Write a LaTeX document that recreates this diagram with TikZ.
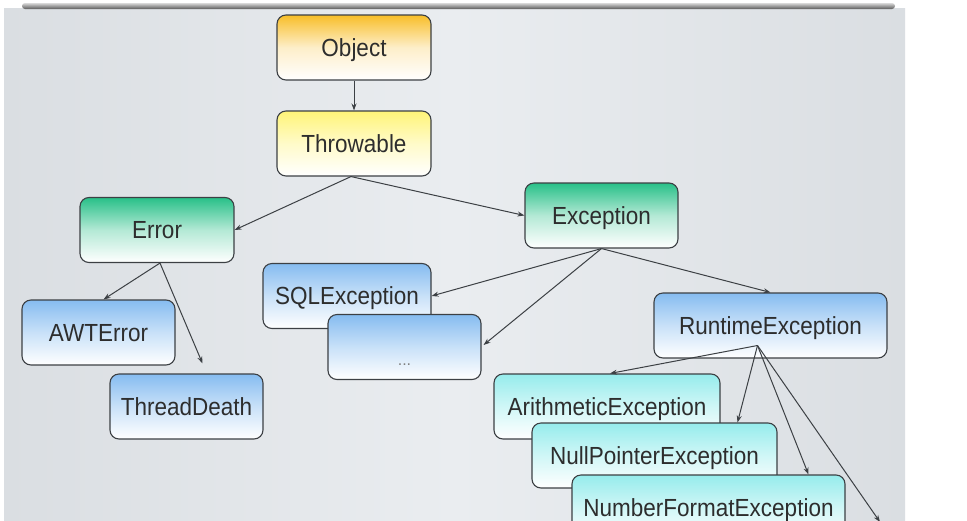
\documentclass[tikz,border=0pt]{standalone}
\usepackage{fontspec}
\setmainfont{Liberation Sans}
\usetikzlibrary{arrows.meta,calc}
\definecolor{bgA}{RGB}{218,222,226}
\definecolor{bgB}{RGB}{234,237,240}
\definecolor{orangeT}{RGB}{248,190,40}
\definecolor{yellowT}{RGB}{255,244,120}
\definecolor{greenT}{RGB}{40,192,136}
\definecolor{blueT}{RGB}{134,188,240}
\definecolor{cyanT}{RGB}{150,236,236}
\definecolor{edge}{RGB}{60,64,68}
\definecolor{txt}{RGB}{45,45,45}
\newcommand{\bt}[1]{\scalebox{1}[1.1]{#1}}
\tikzset{
  box/.style={draw=edge, line width=1.1pt, rounded corners=9pt, rectangle,
    minimum height=65pt, text=txt, font=\fontsize{22.5}{26}\selectfont, inner sep=0pt,
    text height=17pt, text depth=0pt},
  orangebox/.style={box, top color=orangeT, bottom color=white, middle color=orangeT!25!white},
  yellowbox/.style={box, top color=yellowT, bottom color=white, middle color=yellowT!40!white},
  greenbox/.style={box, top color=greenT, bottom color=white, middle color=greenT!35!white},
  bluebox/.style={box, top color=blueT, bottom color=white, middle color=blueT!45!white},
  cyanbox/.style={box, top color=cyanT, bottom color=white, middle color=cyanT!45!white},
  arr/.style={draw=edge, line width=1pt, -{Stealth[length=7pt,width=5pt]}}
}
\begin{document}
\begin{tikzpicture}[x={(1pt,0)}, y={(0,-1pt)}]
\useasboundingbox (0,0) rectangle (967,520);
\clip (0,0) rectangle (967,520);
\fill[white] (0,0) rectangle (967,520);
% background panel
\path[left color=bgA, right color=bgA, middle color=bgB] (4,8) rectangle (905,520);
% top shadow bar
\path[top color=gray!30, bottom color=black!65, rounded corners=3pt] (22,3) rectangle (895,9);
% nodes
\node[orangebox, minimum width=154pt] (obj) at (354,47.5) {\bt{Object}};
\node[yellowbox, minimum width=154pt] (thr) at (354,143.5) {\bt{Throwable}};
\node[greenbox, minimum width=154pt] (err) at (157,230) {\bt{Error}};
\node[greenbox, minimum width=153pt] (exc) at (601.5,215.5) {\bt{Exception}};
\node[bluebox, minimum width=168pt] (sql) at (347,296) {\bt{SQLException}};
\node[bluebox, minimum width=153pt] (dots) at (404.5,347) {\raisebox{-10pt}{\fontsize{16}{18}\selectfont\color{gray}...}};
\node[bluebox, minimum width=153pt] (awt) at (98.5,332.5) {\bt{AWTError}};
\node[bluebox, minimum width=153pt] (td) at (186.5,406.5) {\bt{ThreadDeath}};
\node[bluebox, minimum width=233pt] (rt) at (770.5,325.5) {\bt{RuntimeException}};
\node[cyanbox, minimum width=226pt] (ari) at (607,406.5) {\bt{ArithmeticException}};
\node[cyanbox, minimum width=245pt] (np) at (654.5,455.5) {\bt{NullPointerException}};
\node[cyanbox, minimum width=273pt] (nf) at (708.5,507.5) {\bt{NumberFormatException}};
% connectors
\coordinate (rtsrc) at ($(rt.center)+(-13,20)$);
\coordinate (offpage) at (880,522);
\draw[arr] (obj.south) -- (thr.north);
\draw[arr] ($(thr.south)+(-3,0)$) -- (err.east);
\draw[arr] ($(thr.south)+(-3,0)$) -- (exc.west);
\draw[arr] ($(err.south)+(3,0)$) -- ($(awt.north)+(5,0)$);
\draw[arr] ($(err.south)+(3,0)$) -- ($(td.north)+(16,-10)$);
\draw[arr] (exc.south) -- (sql.east);
\draw[arr] (exc.south) -- ($(dots.east)+(2,-2)$);
\draw[arr] (exc.south) -- (rt.north);
\draw[arr] (rtsrc) -- ($(ari.north)+(3,0)$);
\draw[arr] (rtsrc) -- ($(np.north)+(83,0)$);
\draw[arr] (rtsrc) -- ($(nf.north)+(100,0)$);
\draw[arr] (rtsrc) -- (offpage);
\end{tikzpicture}
\end{document}
